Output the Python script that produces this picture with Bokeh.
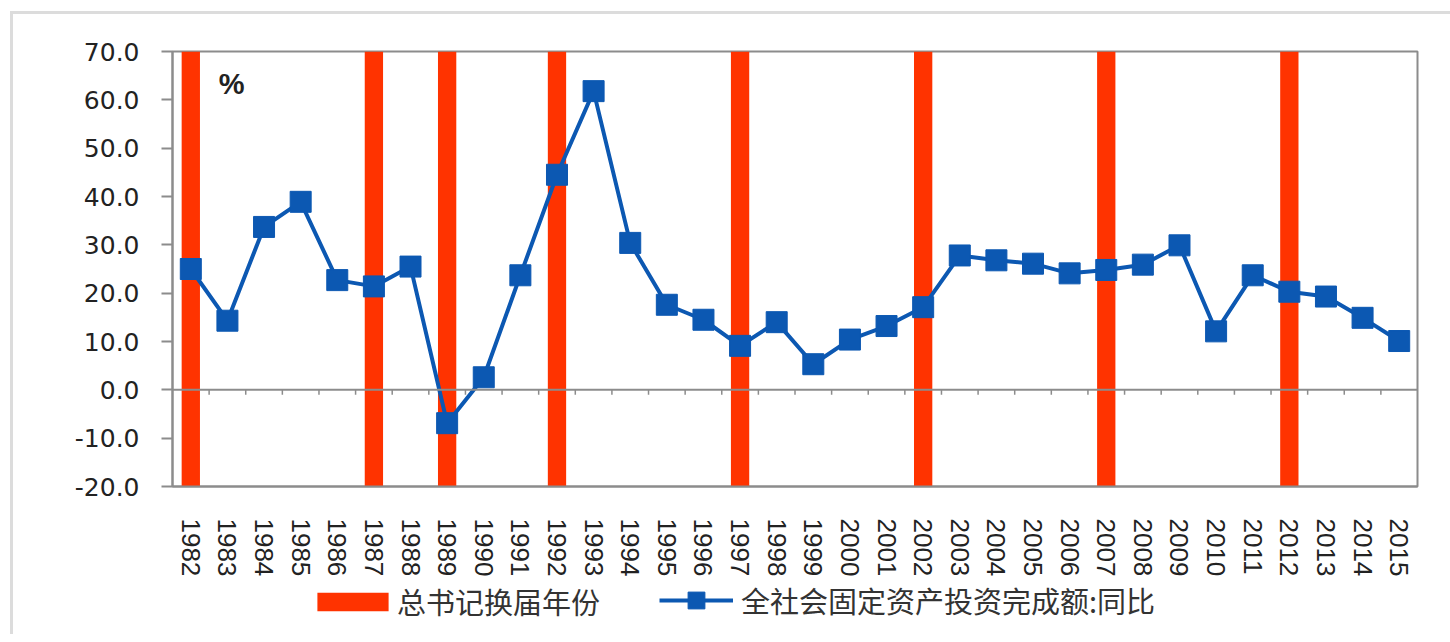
from bokeh.plotting import figure
from bokeh.layouts import column
from bokeh.models import (Range1d, FixedTicker, PrintfTickFormatter, Span, Legend,
                          LegendItem, Label, ColumnDataSource)
from bokeh.embed import file_html
from bokeh.resources import INLINE

# ---- data ----
years = ["1982", "1983", "1984", "1985", "1986", "1987", "1988", "1989", "1990",
         "1991", "1992", "1993", "1994", "1995", "1996", "1997", "1998", "1999",
         "2000", "2001", "2002", "2003", "2004", "2005", "2006", "2007", "2008",
         "2009", "2010", "2011", "2012", "2013", "2014", "2015"]
fai_yoy = [25.0, 14.3, 33.7, 38.9, 22.7, 21.4, 25.5, -6.9, 2.6, 23.7, 44.5, 61.8,
           30.4, 17.6, 14.5, 9.1, 14.0, 5.3, 10.4, 13.2, 17.1, 27.8, 26.8, 26.1,
           24.1, 24.8, 25.9, 29.9, 12.1, 23.7, 20.3, 19.3, 14.9, 10.1]
change_years = ["1982", "1987", "1989", "1992", "1997", "2002", "2007", "2012"]
change_values = [70, 70, 70, 70, 70, 70, 70, 70]
y_ticks = [-20, -10, 0, 10, 20, 30, 40, 50, 60, 70]

bar_label = "总书记换届年份"
line_label = "全社会固定资产投资完成额:同比"

RED = "#ff3300"
BLUE = "#0c58b2"
GRAY = "#8c8c8c"
TXT = "#222222"

idx = list(range(len(years)))
bar_idx = [years.index(y) for y in change_years]

W, H = 1437, 565
p = figure(width=W, height=H, output_backend="svg", toolbar_location=None,
           x_range=Range1d(-0.5, len(years) - 0.5), y_range=Range1d(y_ticks[0], y_ticks[-1]),
           min_border_left=159, min_border_right=33, min_border_top=37,
           min_border_bottom=H - 37 - 439)

p.xgrid.visible = False
p.ygrid.visible = False
p.outline_line_color = GRAY
p.outline_line_width = 2
p.background_fill_color = "white"
p.border_fill_color = "white"

bar_src = ColumnDataSource(dict(x=bar_idx, top=change_values))
bars = p.vbar(x="x", top="top", bottom=y_ticks[0], width=0.5, source=bar_src,
              fill_color=RED, line_color=None)

zero = Span(location=0, dimension="width", line_color=GRAY, line_width=2)
p.add_layout(zero)

# small category-boundary ticks on the zero line
bx = [i + 0.5 for i in idx[:-1]]
p.segment(x0=bx, x1=bx, y0=[0] * len(bx), y1=[-1.0] * len(bx),
          line_color=GRAY, line_width=1.5)

src = ColumnDataSource(dict(x=idx, y=fai_yoy))
ln = p.line("x", "y", source=src, line_color=BLUE, line_width=4)
mk = p.scatter("x", "y", source=src, marker="square", size=21,
               fill_color=BLUE, line_color=BLUE)

# axes
xa = p.xaxis[0]
xa.ticker = FixedTicker(ticks=idx)
xa.major_label_overrides = {i: y for i, y in zip(idx, years)}
xa.major_label_orientation = "vertical"
xa.major_tick_out = 0
xa.major_tick_in = 0
xa.minor_tick_out = 0
xa.minor_tick_in = 0
xa.axis_line_color = GRAY
xa.axis_line_width = 2
xa.major_label_standoff = 32
xa.major_label_text_font = "Liberation Sans"
xa.major_label_text_font_size = "26px"
xa.major_label_text_color = TXT

ya = p.yaxis[0]
ya.ticker = FixedTicker(ticks=y_ticks)
ya.formatter = PrintfTickFormatter(format="%.1f")
ya.major_tick_out = 11
ya.major_tick_in = 0
ya.minor_tick_out = 0
ya.minor_tick_in = 0
ya.major_tick_line_color = GRAY
ya.major_tick_line_width = 2
ya.axis_line_color = GRAY
ya.axis_line_width = 2
ya.major_label_standoff = 22
ya.major_label_text_font = "DejaVu Sans"
ya.major_label_text_font_size = "25px"
ya.major_label_text_color = TXT

pct = Label(x=0.76, y=66.5, text="%", text_font="Liberation Sans",
            text_font_size="29px", text_font_style="bold", text_color=TXT,
            text_baseline="top", text_align="left")
p.add_layout(pct)

# ---- legend strip (separate figure below the chart; its ranges keep the
#      legend renderers' data out of view, only the legend keys are shown) ----
LH = 55
q = figure(width=W, height=LH, output_backend="svg", toolbar_location=None,
           x_range=Range1d(-0.5, len(years) - 0.5), y_range=Range1d(1000, 1001),
           min_border_left=0, min_border_right=0, min_border_top=0,
           min_border_bottom=0)
q.axis.visible = False
q.grid.visible = False
q.outline_line_color = None
q.border_fill_color = "white"
q.background_fill_color = "white"
lg_bar = q.vbar(x="x", top="top", bottom=y_ticks[0], width=0.5, source=bar_src,
                fill_color=RED, line_color=None)
lg_ln = q.line("x", "y", source=src, line_color=BLUE, line_width=4)
lg_mk = q.scatter("x", "y", source=src, marker="square", size=17,
                  fill_color=BLUE, line_color=BLUE)

common = dict(orientation="horizontal", border_line_color=None,
              background_fill_alpha=0, padding=0, margin=0,
              label_text_font="Noto Sans CJK SC", label_text_font_size="29px",
              label_text_color="#333333")
legend1 = Legend(items=[LegendItem(label=bar_label, renderers=[lg_bar], index=0)],
                 location=(136, 12), glyph_width=89, glyph_height=23,
                 label_standoff=0, **common)
legend2 = Legend(items=[LegendItem(label=line_label, renderers=[lg_ln, lg_mk], index=0)],
                 location=(487, 13), glyph_width=74, glyph_height=42,
                 label_standoff=8, **common)
q.add_layout(legend1, "center")
q.add_layout(legend2, "center")

layout = column(p, q, spacing=0,
                styles={"margin-left": "10px", "margin-top": "11px",
                        "border-left": "3px solid #dcdcdc",
                        "border-top": "3px solid #dcdcdc"})

open("out.html", "w").write(file_html(layout, INLINE))
